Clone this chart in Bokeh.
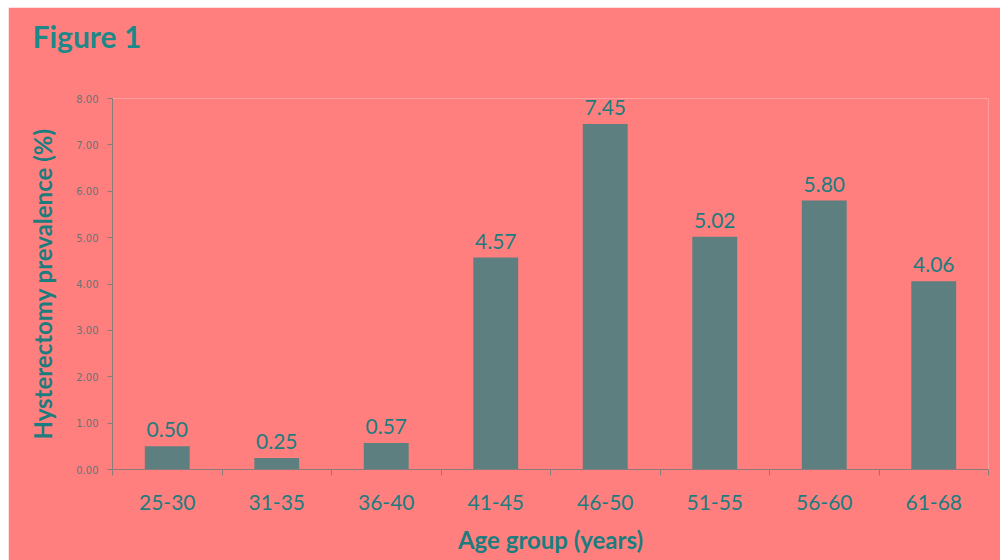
from bokeh.plotting import figure
from bokeh.models import FixedTicker, ColumnDataSource, Range1d
from bokeh.core.properties import value
from bokeh.embed import file_html
from bokeh.resources import INLINE

# Hysterectomy prevalence by age group
age_groups = ["25-30", "31-35", "36-40", "41-45", "46-50", "51-55", "56-60", "61-68"]
prevalence = [0.50, 0.25, 0.57, 4.57, 7.45, 5.02, 5.80, 4.06]
y_ticks = [0, 1, 2, 3, 4, 5, 6, 7, 8]

BG = "#FF7F7F"
BAR = "#5E7F7F"
TEAL = "#1C7C7E"
AXIS = "#8C7B7B"
FONT = "Lato"

centers = [i + 0.5 for i in range(len(age_groups))]
source = ColumnDataSource(dict(
    x=centers,
    y=prevalence,
    label=[f"{v:.2f}" for v in prevalence],
))

# the title carries an empty second line so it sits high above the frame
p = figure(width=992, height=553, output_backend="svg", toolbar_location=None,
           x_range=Range1d(0, len(age_groups)), y_range=Range1d(0, 8),
           min_border_left=104, min_border_right=12,
           min_border_top=89, min_border_bottom=91,
           title="Figure 1\n")
p.margin = (7, 0, 0, 8)
p.background_fill_color = BG
p.border_fill_color = BG
p.outline_line_color = None
p.grid.visible = False

p.title.align = "left"
p.title.offset = -80
p.title.standoff = 17
p.title.text_font = FONT
p.title.text_font_size = "30px"
p.title.text_font_style = "bold"
p.title.text_color = "#1E8888"

p.vbar(x="x", top="y", width=0.41, source=source, fill_color=BAR, line_color=None)
p.text(x="x", y="y", text="label", source=source, y_offset=-9,
       text_align="center", text_baseline="bottom",
       text_font=value(FONT), text_font_size="21px", text_color=TEAL)

# x axis: labels at bar centres, ticks at category boundaries
xa = p.xaxis[0]
xa.ticker = FixedTicker(ticks=centers, minor_ticks=list(range(len(age_groups) + 1)))
xa.major_label_overrides = {c: g for c, g in zip(centers, age_groups)}
xa.major_tick_line_color = None
xa.minor_tick_in = 0
xa.minor_tick_out = 6
xa.minor_tick_line_color = AXIS
xa.axis_line_color = AXIS
xa.major_label_text_font = FONT
xa.major_label_text_font_size = "21px"
xa.major_label_text_color = TEAL
xa.major_label_standoff = 19
xa.axis_label = "Age group (years)"
xa.axis_label_text_font = FONT
xa.axis_label_text_font_size = "24px"
xa.axis_label_text_font_style = "bold"
xa.axis_label_text_color = TEAL
xa.axis_label_standoff = 12

ya = p.yaxis[0]
ya.ticker = FixedTicker(ticks=y_ticks)
ya.formatter.use_scientific = False
ya.major_label_overrides = {t: f"{t:.2f}" for t in y_ticks}
ya.minor_tick_line_color = None
ya.major_tick_in = 0
ya.major_tick_out = 5
ya.major_tick_line_color = AXIS
ya.axis_line_color = AXIS
ya.major_label_text_font = "DejaVu Sans"
ya.major_label_text_font_size = "10px"
ya.major_label_text_color = "#6A7373"
ya.major_label_standoff = 9
ya.axis_label = "Hysterectomy prevalence (%)"
ya.axis_label_text_font = FONT
ya.axis_label_text_font_size = "24px"
ya.axis_label_text_font_style = "bold"
ya.axis_label_text_color = TEAL
ya.axis_label_standoff = 16

open("out.html", "w").write(file_html(p, INLINE))
